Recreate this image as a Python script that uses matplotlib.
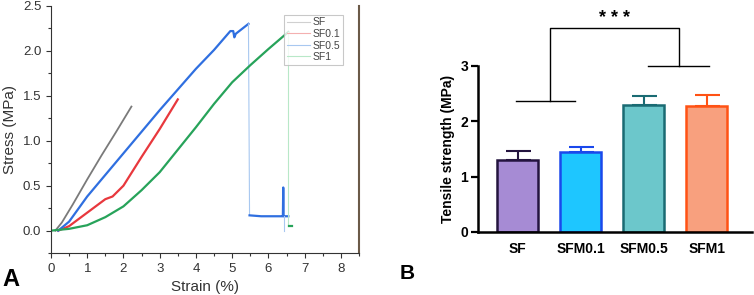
import matplotlib.pyplot as plt
import numpy as np

plt.rcParams['font.family'] = ['Liberation Sans', 'DejaVu Sans']

# ---- panel A: stress-strain curves ----
sf_strain = [0.12, 0.3, 0.6, 1.0, 1.4, 1.8, 2.22]
sf_stress = [0.0, 0.09, 0.29, 0.57, 0.84, 1.1, 1.38]

sf01_strain = [0.2, 0.5, 1.0, 1.5, 1.7, 2.0, 2.5, 3.0, 3.5]
sf01_stress = [0.0, 0.05, 0.2, 0.35, 0.38, 0.5, 0.82, 1.13, 1.46]

sf05_strain = [0.2, 0.5, 1.0, 1.5, 2.0, 2.5, 3.0, 3.5, 4.0, 4.5, 4.95, 5.03, 5.06, 5.1, 5.45]
sf05_stress = [0.0, 0.1, 0.38, 0.62, 0.86, 1.1, 1.34, 1.57, 1.8, 2.01, 2.22, 2.22, 2.15, 2.19, 2.30]
sf05_tail_strain = [5.48, 5.8, 6.1, 6.38, 6.4, 6.41, 6.42, 6.45, 6.55]
sf05_tail_stress = [0.17, 0.16, 0.16, 0.16, 0.16, 0.48, 0.16, 0.16, 0.16]

sf1_strain = [0.0, 0.5, 1.0, 1.5, 2.0, 2.5, 3.0, 3.5, 4.0, 4.5, 5.0, 5.5, 6.0, 6.55]
sf1_stress = [0.0, 0.02, 0.06, 0.15, 0.27, 0.45, 0.65, 0.9, 1.15, 1.41, 1.65, 1.84, 2.02, 2.21]
sf1_tail_strain = [6.58, 6.65]
sf1_tail_stress = [0.05, 0.05]

curve_labels = ['SF', 'SF0.1', 'SF0.5', 'SF1']
curve_colors = ['#7a7a7a', '#e8383d', '#2f6fe0', '#27a35a']
legend_colors = ['#d0d0d0', '#f4b0b0', '#a8c8f0', '#b8e8c8']

# ---- panel B: tensile strength bars ----
groups = ['SF', 'SFM0.1', 'SFM0.5', 'SFM1']
strength = [1.30, 1.45, 2.29, 2.27]
strength_err = [0.16, 0.08, 0.16, 0.21]
fill_colors = ['#a68bd4', '#1ec6ff', '#6cc7cb', '#f8a07e']
edge_colors = ['#24143f', '#1a48ec', '#1a6b73', '#ff5214']

fig = plt.figure(figsize=(7.54, 2.95), dpi=100)

axA = fig.add_axes([0.0676, 0.142, 0.4085, 0.838])
thin = 0.8
thick = 1.6
axA.plot(sf_strain, sf_stress, color=curve_colors[0], lw=1.3)
axA.plot(sf01_strain, sf01_stress, color=curve_colors[1], lw=thick)
axA.plot(sf05_strain, sf05_stress, color=curve_colors[2], lw=thick)
axA.plot([sf05_strain[-1], sf05_tail_strain[0]], [sf05_stress[-1], sf05_tail_stress[0]],
         color=legend_colors[2], lw=thin)
axA.plot(sf05_tail_strain, sf05_tail_stress, color=curve_colors[2], lw=thick)
axA.plot([6.42, 6.42], [0.16, 0.0], color=legend_colors[2], lw=thin)
axA.plot(sf1_strain, sf1_stress, color=curve_colors[3], lw=thick)
axA.plot([sf1_strain[-1], sf1_strain[-1]], [sf1_stress[-1], sf1_tail_stress[0]],
         color=legend_colors[3], lw=thin)
axA.plot(sf1_tail_strain, sf1_tail_stress, color=curve_colors[3], lw=thick)

handles = [plt.Line2D([], [], color=c, lw=0.8) for c in legend_colors]
leg = axA.legend(handles, curve_labels, loc='upper right', bbox_to_anchor=(0.965, 0.985),
                 fontsize=7.5, frameon=True, fancybox=False, handlelength=2.2,
                 borderpad=0.25, labelspacing=0.15, handletextpad=0.3)
leg.get_frame().set_edgecolor('#bbbbbb')
leg.get_frame().set_linewidth(0.8)
for t in leg.get_texts():
    t.set_color('#444444')

axA.set_xlim(0, 8.5)
axA.set_ylim(-0.25, 2.5)
axA.set_xticks(np.arange(0, 9, 1))
axA.set_xticks(np.arange(0, 8.6, 0.5), minor=True)
axA.set_yticks([0.0, 0.5, 1.0, 1.5, 2.0, 2.5])
axA.set_yticks(np.arange(-0.25, 2.51, 0.25), minor=True)
axA.yaxis.set_major_formatter(plt.FormatStrFormatter('%.1f'))
axA.tick_params(which='both', direction='out', colors='#333333', labelsize=9.5, width=0.8)
axA.tick_params(which='major', length=3.5)
axA.tick_params(which='minor', length=2)
axA.spines['top'].set_visible(False)
axA.spines['right'].set_color('#6b5a48')
axA.spines['right'].set_linewidth(1.5)
axA.spines['left'].set_color('#333333')
axA.spines['bottom'].set_color('#333333')
axA.set_xlabel('Strain (%)', fontsize=11, color='#333333', labelpad=4)
axA.set_ylabel('Stress (MPa)', fontsize=11, color='#333333', labelpad=4)
fig.text(0.003, 0.03, 'A', fontsize=17, fontweight='bold')

axB = fig.add_axes([0.634, 0.2136, 0.363, 0.5627])
x = np.arange(len(groups))
for i in range(len(groups)):
    axB.bar(x[i], strength[i], width=0.65, color=fill_colors[i], edgecolor=edge_colors[i],
            linewidth=1.8, zorder=2)
    axB.errorbar(x[i], strength[i], yerr=[[0], [strength_err[i]]], color=edge_colors[i],
                 capsize=9, elinewidth=1.5, capthick=1.5, zorder=1)

# significance bracket
bk = dict(color='black', lw=1.0, clip_on=False)
axB.plot([-0.03, 0.9], [2.37, 2.37], **bk)
axB.plot([2.06, 3.03], [3.0, 3.0], **bk)
axB.plot([0.51, 0.51, 2.56, 2.56], [2.37, 3.68, 3.68, 3.0], **bk)
axB.text(1.54, 3.85, '* * *', ha='center', va='center', fontsize=13, fontweight='bold')

axB.set_xlim(-0.63, 3.71)
axB.set_ylim(0, 3)
axB.set_yticks([0, 1, 2, 3])
axB.set_xticks(x)
axB.set_xticklabels(groups)
for lab in axB.get_xticklabels() + axB.get_yticklabels():
    lab.set_fontweight('bold')
axB.tick_params(axis='y', direction='out', length=5, width=1.6, labelsize=10, pad=2)
axB.tick_params(axis='x', length=0, labelsize=10, pad=7)
axB.spines['top'].set_visible(False)
axB.spines['right'].set_visible(False)
axB.spines['left'].set_linewidth(1.8)
axB.spines['bottom'].set_linewidth(1.8)
axB.set_ylabel('Tensile strength (MPa)', fontsize=10, fontweight='bold', labelpad=4)
fig.text(0.53, 0.055, 'B', fontsize=15, fontweight='bold')

fig.savefig('out.png', dpi=100)
